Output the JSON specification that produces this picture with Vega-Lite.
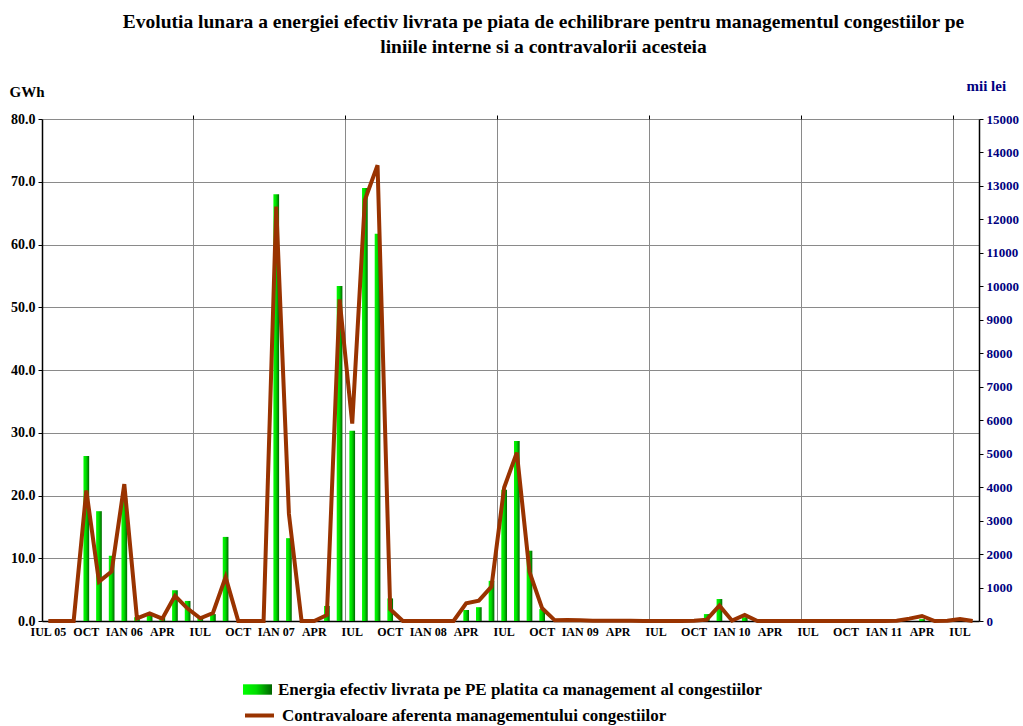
{
  "$schema": "https://vega.github.io/schema/vega-lite/v6.json",
  "width": 937,
  "height": 502,
  "autosize": {"type": "none"},
  "padding": {"left": 42, "top": 119, "right": 44, "bottom": 105},
  "background": "white",
  "config": {"view": {"stroke": null}, "font": "Liberation Serif"},
  "title": {
    "text": ["Evolutia lunara a energiei efectiv livrata pe piata de echilibrare pentru managementul congestiilor pe", "liniile interne si a contravalorii acesteia"],
    "font": "Liberation Serif", "fontSize": 19.5, "fontWeight": "bold", "color": "black",
    "anchor": "middle", "frame": "group", "dx": 33, "lineHeight": 25, "offset": 21
  },
  "data": {"values": [
    {"d":"2005-07","e":0,"v":0},{"d":"2005-08","e":0,"v":0},{"d":"2005-09","e":0,"v":0},
    {"d":"2005-10","e":26.3,"v":3900},{"d":"2005-11","e":17.5,"v":1175},{"d":"2005-12","e":10.4,"v":1480},
    {"d":"2006-01","e":19.6,"v":4090},{"d":"2006-02","e":0.6,"v":80},{"d":"2006-03","e":1.1,"v":230},
    {"d":"2006-04","e":0.6,"v":70},{"d":"2006-05","e":4.9,"v":750},{"d":"2006-06","e":3.2,"v":370},
    {"d":"2006-07","e":0.6,"v":80},{"d":"2006-08","e":1.1,"v":240},{"d":"2006-09","e":13.4,"v":1310},
    {"d":"2006-10","e":0,"v":0},{"d":"2006-11","e":0,"v":0},{"d":"2006-12","e":0,"v":0},
    {"d":"2007-01","e":68.0,"v":12380},{"d":"2007-02","e":13.2,"v":3200},{"d":"2007-03","e":0,"v":0},
    {"d":"2007-04","e":0,"v":0},{"d":"2007-05","e":2.4,"v":180},{"d":"2007-06","e":53.4,"v":9610},
    {"d":"2007-07","e":30.3,"v":5900},{"d":"2007-08","e":69.0,"v":12580},{"d":"2007-09","e":61.7,"v":13620},
    {"d":"2007-10","e":3.6,"v":350},{"d":"2007-11","e":0,"v":0},{"d":"2007-12","e":0,"v":0},
    {"d":"2008-01","e":0,"v":0},{"d":"2008-02","e":0,"v":0},{"d":"2008-03","e":0,"v":0},
    {"d":"2008-04","e":1.75,"v":530},{"d":"2008-05","e":2.2,"v":610},{"d":"2008-06","e":6.4,"v":1030},
    {"d":"2008-07","e":20.9,"v":3990},{"d":"2008-08","e":28.7,"v":5030},{"d":"2008-09","e":11.2,"v":1470},
    {"d":"2008-10","e":1.9,"v":380},{"d":"2008-11","e":0,"v":20},{"d":"2008-12","e":0,"v":30},
    {"d":"2009-01","e":0,"v":20},{"d":"2009-02","e":0,"v":10},{"d":"2009-03","e":0,"v":10},
    {"d":"2009-04","e":0,"v":10},{"d":"2009-05","e":0,"v":10},{"d":"2009-06","e":0,"v":0},
    {"d":"2009-07","e":0,"v":0},{"d":"2009-08","e":0,"v":0},{"d":"2009-09","e":0,"v":0},
    {"d":"2009-10","e":0,"v":10},{"d":"2009-11","e":1.1,"v":40},{"d":"2009-12","e":3.5,"v":460},
    {"d":"2010-01","e":0,"v":10},{"d":"2010-02","e":0.6,"v":180},{"d":"2010-03","e":0,"v":0},
    {"d":"2010-04","e":0,"v":0},{"d":"2010-05","e":0,"v":0},{"d":"2010-06","e":0,"v":0},
    {"d":"2010-07","e":0,"v":0},{"d":"2010-08","e":0,"v":0},{"d":"2010-09","e":0,"v":0},
    {"d":"2010-10","e":0,"v":0},{"d":"2010-11","e":0,"v":0},{"d":"2010-12","e":0,"v":0},
    {"d":"2011-01","e":0,"v":0},{"d":"2011-02","e":0,"v":10},{"d":"2011-03","e":0,"v":70},
    {"d":"2011-04","e":0.3,"v":150},{"d":"2011-05","e":0,"v":0},{"d":"2011-06","e":0,"v":10},
    {"d":"2011-07","e":0,"v":60},{"d":"2011-08","e":0,"v":0}
  ]},
  "resolve": {"scale": {"y": "independent", "stroke": "independent"}, "axis": {"x": "independent"}},
  "layer": [
    {
      "mark": {"type": "bar", "width": {"band": 0.45}, "strokeWidth": 0,
        "fill": {"gradient": "linear", "x1": 0, "y1": 0, "x2": 1, "y2": 0,
          "stops": [{"offset": 0, "color": "#00ff00"}, {"offset": 0.45, "color": "#00dd00"}, {"offset": 1, "color": "#006400"}]}},
      "encoding": {
        "x": {
          "field": "d", "type": "ordinal", "sort": null,
          "scale": {"paddingInner": 0, "paddingOuter": 0},
          "axis": {
            "title": null,
            "values": ["2005-07","2005-10","2006-01","2006-04","2006-07","2006-10","2007-01","2007-04","2007-07","2007-10","2008-01","2008-04","2008-07","2008-10","2009-01","2009-04","2009-07","2009-10","2010-01","2010-04","2010-07","2010-10","2011-01","2011-04","2011-07"],
            "labelExpr": "substring(datum.value,5,7)=='07' ? (datum.value=='2005-07' ? 'IUL 05' : 'IUL') : substring(datum.value,5,7)=='10' ? 'OCT' : substring(datum.value,5,7)=='01' ? 'IAN ' + substring(datum.value,2,4) : 'APR'",
            "grid": false, "ticks": false,
            "domainColor": "black", "domainWidth": 1.5,
            "labelFont": "Liberation Serif", "labelFontSize": 12, "labelFontWeight": "bold",
            "labelColor": "black", "labelAngle": 0, "labelPadding": 5, "labelOverlap": false
          }
        },
        "y": {
          "field": "e", "type": "quantitative",
          "scale": {"domain": [0, 80], "nice": false},
          "axis": {
            "values": [0,10,20,30,40,50,60,70,80], "format": ".1f",
            "grid": true, "gridColor": "#8a8a8a", "gridWidth": 1,
            "domainColor": "black", "domainWidth": 1.5,
            "tickColor": "black", "tickSize": 4,
            "labelFont": "Liberation Serif", "labelFontSize": 14, "labelFontWeight": "bold",
            "labelColor": "black", "labelPadding": 3,
            "title": "GWh", "titleAngle": 0, "titleX": -33, "titleY": -23,
            "titleAlign": "left", "titleBaseline": "alphabetic",
            "titleFont": "Liberation Serif", "titleFontSize": 15, "titleFontWeight": "bold", "titleColor": "black"
          }
        },
        "stroke": {
          "datum": "Energia efectiv livrata pe PE platita ca management al congestiilor",
          "type": "nominal",
          "scale": {"range": ["#00c000"]},
          "legend": {
            "orient": "none", "legendX": 201, "legendY": 556, "title": null, "padding": 0,
            "symbolType": "M-1,-0.36L1,-0.36L1,0.36L-1,0.36Z", "symbolSize": 841,
            "symbolStrokeWidth": 0,
            "labelFont": "Liberation Serif", "labelFontSize": 17, "labelFontWeight": "bold",
            "labelColor": "black", "labelOffset": 6, "labelLimit": 0,
            "encode": {"symbols": {"update": {
              "fill": {"value": {"gradient": "linear", "x1": 0, "y1": 0, "x2": 1, "y2": 0,
                "stops": [{"offset": 0, "color": "#00ff00"}, {"offset": 0.45, "color": "#00dd00"}, {"offset": 1, "color": "#006400"}]}},
              "fillOpacity": {"value": 1},
              "strokeWidth": {"value": 0}
            }}}
          }
        }
      }
    },
    {
      "mark": {"type": "line", "strokeWidth": 4, "strokeJoin": "miter"},
      "encoding": {
        "x": {
          "field": "d", "type": "ordinal", "sort": null,
          "axis": {
            "title": null,
            "values": ["2006-07","2007-07","2008-07","2009-07","2010-07","2011-07"],
            "bandPosition": 0, "grid": true, "gridColor": "#8a8a8a", "gridWidth": 1,
            "labels": false, "domain": false, "ticks": true, "tickColor": "black", "tickSize": 4
          }
        },
        "y": {
          "field": "v", "type": "quantitative",
          "scale": {"domain": [0, 15000], "nice": false},
          "axis": {
            "orient": "right",
            "values": [0,1000,2000,3000,4000,5000,6000,7000,8000,9000,10000,11000,12000,13000,14000,15000],
            "format": "d", "grid": false,
            "domainColor": "black", "domainWidth": 1.5,
            "tickColor": "black", "tickSize": 4,
            "labelFont": "Liberation Serif", "labelFontSize": 13, "labelFontWeight": "bold",
            "labelColor": "#000080", "labelPadding": 3,
            "title": "mii lei", "titleAngle": 0, "titleX": -13, "titleY": -29,
            "titleAlign": "left", "titleBaseline": "alphabetic",
            "titleFont": "Liberation Serif", "titleFontSize": 15, "titleFontWeight": "bold", "titleColor": "#000080"
          }
        },
        "stroke": {
          "datum": "Contravaloare aferenta managementului congestiilor",
          "type": "nominal",
          "scale": {"range": ["#993300"]},
          "legend": {
            "orient": "none", "legendX": 201, "legendY": 580, "title": null, "padding": 0,
            "symbolType": "stroke", "symbolSize": 841, "symbolStrokeWidth": 4,
            "labelFont": "Liberation Serif", "labelFontSize": 17, "labelFontWeight": "bold",
            "labelColor": "black", "labelOffset": 6, "labelLimit": 0
          }
        }
      }
    }
  ]
}
